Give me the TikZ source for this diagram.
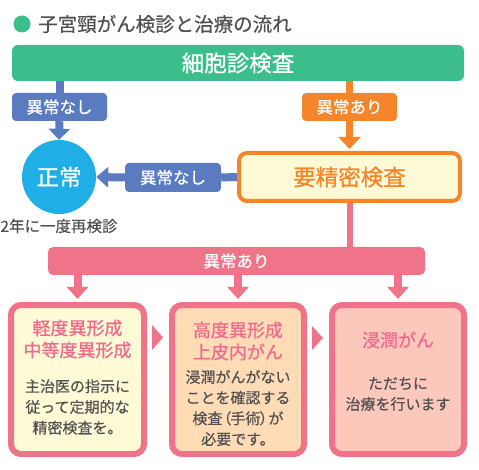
\documentclass[tikz,border=0pt]{standalone}
\usepackage{fontspec}
\setmainfont{Noto Sans CJK JP}
\newfontfamily\jpm[FakeBold=0.7]{Noto Sans CJK JP}
\newfontfamily\jpl[FakeBold=0.35]{Noto Sans CJK JP}
\usetikzlibrary{arrows.meta,calc}
\definecolor{gr}{HTML}{3CBE8C}
\definecolor{bc}{HTML}{5A7BC0}
\definecolor{cc}{HTML}{1FAEE6}
\definecolor{oc}{HTML}{F5852A}
\definecolor{pc}{HTML}{F07489}
\definecolor{ptext}{HTML}{EE6A8C}
\definecolor{yf}{HTML}{FFFAD6}
\definecolor{peach}{HTML}{FFDCB6}
\definecolor{salmon}{HTML}{FCC8BC}
\definecolor{tg}{HTML}{505050}
\tikzset{
  fs/.style={font=\jpm\fontsize{#1}{#1}\selectfont},
  fsl/.style={font=\jpl\fontsize{#1}{#1}\selectfont},
  lab/.style={rounded corners=4pt, minimum width=95pt, minimum height=28pt, inner sep=0pt, text=white, fs=16.5},
  bigbox/.style={draw=pc, line width=6pt, rounded corners=10pt, minimum width=132pt, minimum height=149pt, inner sep=0pt},
  ttl/.style={text=ptext, align=center, font=\jpm\fontsize{18}{22}\selectfont, inner sep=0pt},
  bod/.style={text=tg, align=center, font=\jpl\fontsize{15}{20.7}\selectfont, inner sep=0pt},
}
\begin{document}
\begin{tikzpicture}[x=1pt,y=-1pt]
\useasboundingbox (0,0) rectangle (479,470);
% title
\node[circle, fill=gr, minimum size=17pt, inner sep=0pt] (dot) at (22,24) {};
\node[anchor=west, text=tg, fsl=19.5, inner sep=0pt] (title) at (38,24) {子宮頸がん検診と治療の流れ};
% top bar
\node[fill=gr, rounded corners=6pt, minimum width=452pt, minimum height=36pt, inner sep=0pt, text=white, fs=22.5] (cell) at (238,63) {細胞診検査};
% labels
\node[lab, fill=bc] (bl1) at (59.5,107) {異常なし};
\node[lab, fill=oc] (ol) at (349.5,107) {異常あり};
% normal circle
\node[circle, fill=cc, minimum size=74pt, inner sep=0pt, text=white, fs=22.5] (norm) at (59,177) {正常};
\node[text=tg, fsl=15.5, inner sep=0pt] (re) at (59,226) {2年に一度再検診};
% precise exam
\node[draw=oc, line width=4pt, fill=yf, rounded corners=8pt, minimum width=221pt, minimum height=48pt, inner sep=0pt, text=oc, fs=22.5] (obox) at (349.5,177) {要精密検査};
\node[lab, fill=bc, minimum width=96pt, minimum height=29pt] (bl2) at (173,177.5) {異常なし};
% pink bar
\node[fill=pc, rounded corners=5pt, minimum width=377pt, minimum height=28pt, inner sep=0pt, text=white, fs=16.5] (pbar) at (236.5,261) {異常あり};
% result boxes
\node[bigbox, fill=yf, minimum width=133pt] (b1) at (77.5,379.5) {};
\node[bigbox, fill=peach] (b2) at (238,379.5) {};
\node[bigbox, fill=salmon] (b3) at (398,379.5) {};
\node[ttl] (t1) at (77.5,339) {軽度異形成\\中等度異形成};
\node[bod] (d1) at (77.5,407) {主治医の指示に\\従って定期的な\\精密検査を。};
\node[ttl] (t2) at (238,341) {高度異形成\\上皮内がん};
\node[bod] (d2) at (238,408) {浸潤がんがない\\ことを確認する\\検査\kern-6pt（\kern-1pt手術\kern-1pt）\kern-6pt が\\必要です。};
\node[ttl] (t3) at (398,340) {浸潤がん};
\node[bod] (d3) at (398,394) {ただちに\\治療を行います};
% connectors
\draw[line width=8pt, bc] (cell.south -| bl1) -- (bl1.north);
\draw[line width=8pt, bc, -{Triangle[width=21pt,length=11pt]}] (bl1.south) -- (norm.north);
\draw[line width=7pt, oc] (cell.south -| ol) -- (ol.north);
\draw[line width=7pt, oc, -{Triangle[width=22pt,length=12pt]}, shorten >=2pt] (ol.south) -- (obox.north);
\draw[line width=8pt, bc] (obox.west) -- (bl2.east);
\draw[line width=8pt, bc, -{Triangle[width=20pt,length=12pt]}] (bl2.west) -- (norm.east);
\draw[line width=6pt, pc] (obox.south) -- (obox.south |- pbar.north);
\foreach \b in {b1,b2,b3}
  \draw[line width=8pt, pc, -{Triangle[width=21pt,length=12pt]}, shorten >=3pt] (pbar.south -| \b) -- (\b.north);
% triangles between boxes
\fill[pc] (152,325) -- (163,337.5) -- (152,350) -- cycle;
\fill[pc] (312,326) -- (323,338) -- (312,350) -- cycle;
\end{tikzpicture}
\end{document}
